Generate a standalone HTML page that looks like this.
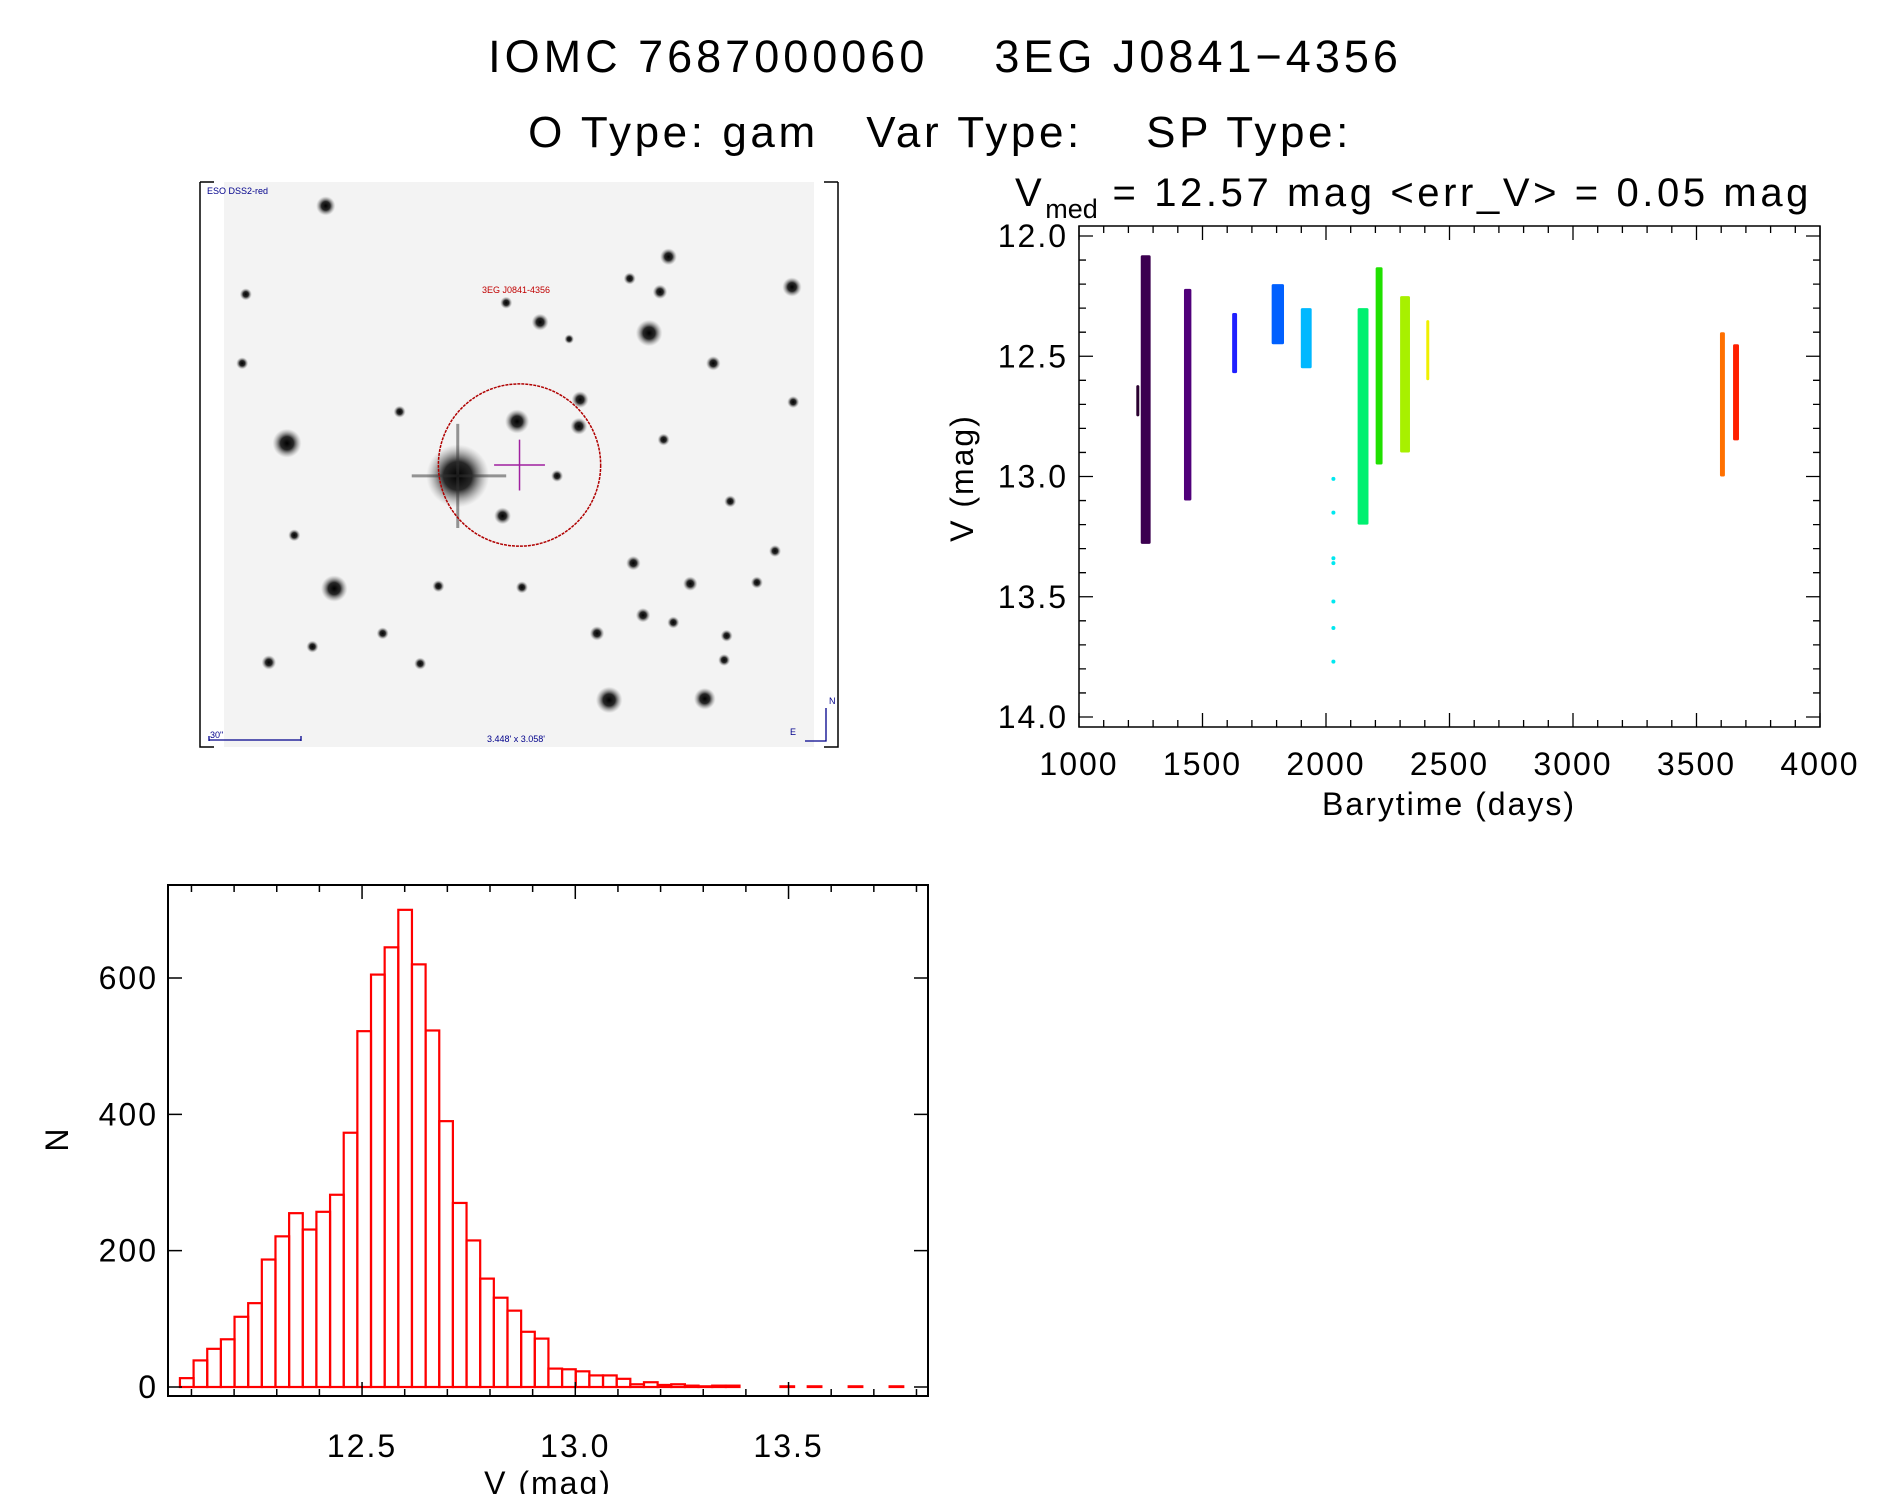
<!DOCTYPE html>
<html><head><meta charset="utf-8">
<style>
html,body{margin:0;padding:0;background:#fff;}
svg text{font-family:"Liberation Sans",sans-serif;fill:#000;}
</style></head>
<body>
<svg id="fig" width="1889" height="1494" viewBox="0 0 1889 1494" xmlns="http://www.w3.org/2000/svg">
<defs>
<radialGradient id="star"><stop offset="0" stop-color="#000" stop-opacity="1"/><stop offset="0.45" stop-color="#111" stop-opacity="0.9"/><stop offset="1" stop-color="#888" stop-opacity="0"/></radialGradient>
</defs>
<text x="945" y="72" font-size="45" letter-spacing="4" text-anchor="middle" xml:space="preserve">IOMC 7687000060    3EG J0841−4356</text>
<text x="940" y="147" font-size="44" letter-spacing="3.6" text-anchor="middle" xml:space="preserve">O Type: gam   Var Type:    SP Type:</text>
<text x="1015" y="206" font-size="40" letter-spacing="3.6" xml:space="preserve">V<tspan font-size="27" dy="12" letter-spacing="0">med</tspan><tspan dy="-12"> = 12.57 mag &lt;err_V&gt; = 0.05 mag</tspan></text>
<g id="sky"></g>
<g id="lc"></g>
<g id="hist"></g>
</svg>
<script>
const NS="http://www.w3.org/2000/svg";
function mk(tag,attrs,parent){const e=document.createElementNS(NS,tag);for(const k in attrs)e.setAttribute(k,attrs[k]);parent.appendChild(e);return e;}

// ---------- Finder chart ----------
const sky=document.getElementById('sky');
const S=1.211;
let r=mk('rect',{x:224,y:182,width:590,height:565,fill:'#f3f3f3'},sky);


let fr=mk('path',{d:'M200 182 H214 M200 182 V747 H214 M838 182 H824 M838 182 V747 H824',stroke:'#000','stroke-width':1.5,fill:'none'},sky);


const starX=[378,237,276,503,536,582,427,269,552,654,545,446,479,415,589,570,493,531,222,362,625,640,598,200,243,330,548,523,460,316,258,347,431,603,655,203,520,556,478,418,600,470];
const starY=[393,366,486,578,275,577,348,170,212,237,241,266,330,426,300,482,523,508,547,484,481,455,545,300,442,340,363,465,393,523,534,548,485,414,332,243,230,514,352,250,525,280];
const starR=[26,12,11,11,11,9,10,8,7,8,6,7,7,7,6,6,6,6,6,5,5,5,5,5,5,5,5,6,5,5,5,5,5,5,5,5,5,5,7,5,5,4];
for(let i=0;i<starX.length;i++){
  const c=mk('circle',{cx:starX[i]*S,cy:starY[i]*S,r:starR[i]*S,fill:'url(#star)'},sky);
  
  
}
let spk=mk('path',{d:`M${340*S} ${393*S} H${418*S} M${378*S} ${350*S} V${436*S}`,stroke:'#333','stroke-width':3,opacity:0.5},sky);


let circ=mk('circle',{cx:429*S,cy:384*S,r:67*S,fill:'none',stroke:'#b00000','stroke-width':1.5,'stroke-dasharray':'3 1'},sky);


let cr=mk('path',{d:`M${408*S} ${384*S} H${450*S} M${429*S} ${363*S} V${405*S}`,stroke:'#a020a0','stroke-width':1.5},sky);


function stxt(x,y,s,col,name,anchor){const t=mk('text',{x:x,y:y,'font-size':9,fill:col,'text-anchor':anchor||'start'},sky);t.textContent=s;t.setAttribute('style','fill:'+col);}
stxt(207,194,'ESO DSS2-red','#00008b','survey-label');
stxt(516,293,'3EG J0841-4356','#c00000','source-label','middle');
stxt(210,738,'30"','#00008b','scale-label');
stxt(516,742,"3.448' x 3.058'",'#00008b','fov-label','middle');
stxt(790,735,'E','#00008b','east-label');
stxt(829,704,'N','#00008b','north-label');
let sb=mk('path',{d:'M209 740 H301 M209 736 V741 M301 736 V741 M805 741 H826 V708',stroke:'#00008b','stroke-width':1.3,fill:'none'},sky);



// ---------- Light curve ----------
const seasonT=[1238,1270,1440,1630,1805,1920,2030,2150,2215,2320,2410,3605,3660];
const seasonLo=[12.62,12.08,12.22,12.32,12.2,12.3,13.0,12.3,12.13,12.25,12.35,12.4,12.45];
const seasonHi=[12.75,13.28,13.1,12.57,12.45,12.55,13.78,13.2,12.95,12.9,12.6,13.0,12.85];
const seasonHalfWidth=[6,20,15,10,25,22,2,22,14,20,4,10,12];
const seasonColor=['#2a0030','#3c0050','#50007a','#2020ff','#0060ff','#00b8ff','#00e8f0','#00f070','#20e000','#a8f000','#f0f000','#ff7000','#ff2000'];
const cyanT=[2030,2030,2030,2030,2030,2030,2030];
const cyanV=[13.01,13.15,13.34,13.36,13.52,13.63,13.77];
const lcXTicks=[1000,1500,2000,2500,3000,3500,4000];
const lcYTicks=[12.0,12.5,13.0,13.5,14.0];
const lc=document.getElementById('lc');
const LX0=1079,LX1=1820,LY0=226,LY1=727;
const lx=t=>LX0+(t-1000)/3000*(LX1-LX0);
const ly=v=>236+(v-12.0)/2.0*(717-236);
for(let i=0;i<seasonT.length;i++){
  if(i===6)continue;
  const x0=lx(seasonT[i]-seasonHalfWidth[i]), x1=lx(seasonT[i]+seasonHalfWidth[i]);
  const b=mk('rect',{x:x0,y:ly(seasonLo[i]),width:Math.max(3,x1-x0),height:ly(seasonHi[i])-ly(seasonLo[i]),fill:seasonColor[i],rx:1.5},lc);
  
  
}
for(let i=0;i<cyanT.length;i++){
  const c=mk('circle',{cx:lx(cyanT[i]),cy:ly(cyanV[i]),r:2,fill:seasonColor[6]},lc);
  
  
}
let lbox=mk('rect',{x:LX0,y:LY0,width:LX1-LX0,height:LY1-LY0,fill:'none',stroke:'#000','stroke-width':1.5},lc);


let td='';
for(let t=1000;t<=4000;t+=100){const x=lx(t),L=(t%500===0)?14:7;td+=`M${x} ${LY1} v${-L} M${x} ${LY0} v${L} `;}
for(let k=0;k<=20;k++){const v=12+k*0.1,y=ly(v),L=(k%5===0)?14:7;td+=`M${LX0} ${y} h${L} M${LX1} ${y} h${-L} `;}
let lt=mk('path',{d:td,stroke:'#000','stroke-width':1.3},lc);


lcXTicks.forEach(t=>{const e=mk('text',{x:lx(t),y:775,'font-size':32,'letter-spacing':2,'text-anchor':'middle'},lc);e.textContent=t;});
lcYTicks.forEach(v=>{const e=mk('text',{x:1068,y:ly(v)+11,'font-size':32,'letter-spacing':2,'text-anchor':'end'},lc);e.textContent=v.toFixed(1);});
let lxt=mk('text',{x:1449,y:815,'font-size':32,'letter-spacing':2,'text-anchor':'middle'},lc);lxt.textContent='Barytime (days)';


let lyt=mk('text',{x:973,y:478,'font-size':32,'letter-spacing':2,'text-anchor':'middle',transform:'rotate(-90 973 478)'},lc);lyt.textContent='V (mag)';



// ---------- Histogram ----------
const binStart=12.073, binWidth=0.032;
const counts=[13,39,56,70,103,123,187,221,255,231,257,282,373,522,605,645,700,620,523,390,270,215,159,131,112,81,71,27,26,23,17,17,12,4,7,3,4,2,1,2,2,0,0,0,1,0,1,0,0,1,0,0,1];
const hXTicks=[12.5,13.0,13.5];
const hYTicks=[0,200,400,600];
const hist=document.getElementById('hist');
const HX0=168,HX1=928,HY0=885,HY1=1396;
const hx=v=>HX0+(v-12.045)/(13.827-12.045)*(HX1-HX0);
const hy=n=>1387-n*(1387-978)/600;
for(let i=0;i<counts.length;i++){
  const x0=hx(binStart+i*binWidth),x1=hx(binStart+(i+1)*binWidth);
  const b=mk('rect',{x:x0,y:hy(counts[i]),width:x1-x0,height:hy(0)-hy(counts[i]),fill:'none',stroke:'#ff0000','stroke-width':2.2},hist);
  
  
}
let hbox=mk('rect',{x:HX0,y:HY0,width:HX1-HX0,height:HY1-HY0,fill:'none',stroke:'#000','stroke-width':2},hist);


let hd='';
for(let k=0;k<=17;k++){const v=12.1+k*0.1,x=hx(v),L=(Math.abs(v*2-Math.round(v*2))<1e-6)?14:7;hd+=`M${x} ${HY1} v${-L} M${x} ${HY0} v${L} `;}
hYTicks.forEach(n=>{const y=hy(n);hd+=`M${HX0} ${y} h14 M${HX1} ${y} h-14 `;});
let ht=mk('path',{d:hd,stroke:'#000','stroke-width':1.5},hist);


hXTicks.forEach(v=>{const e=mk('text',{x:hx(v),y:1457,'font-size':32,'letter-spacing':2,'text-anchor':'middle'},hist);e.textContent=v.toFixed(1);});
hYTicks.forEach(n=>{const e=mk('text',{x:158,y:hy(n)+11,'font-size':32,'letter-spacing':2,'text-anchor':'end'},hist);e.textContent=n;});
let hxt=mk('text',{x:548,y:1494,'font-size':32,'letter-spacing':2,'text-anchor':'middle'},hist);hxt.textContent='V (mag)';


let hyt=mk('text',{x:68,y:1140,'font-size':32,'text-anchor':'middle',transform:'rotate(-90 68 1140)'},hist);hyt.textContent='N';


</script>
</body></html>
